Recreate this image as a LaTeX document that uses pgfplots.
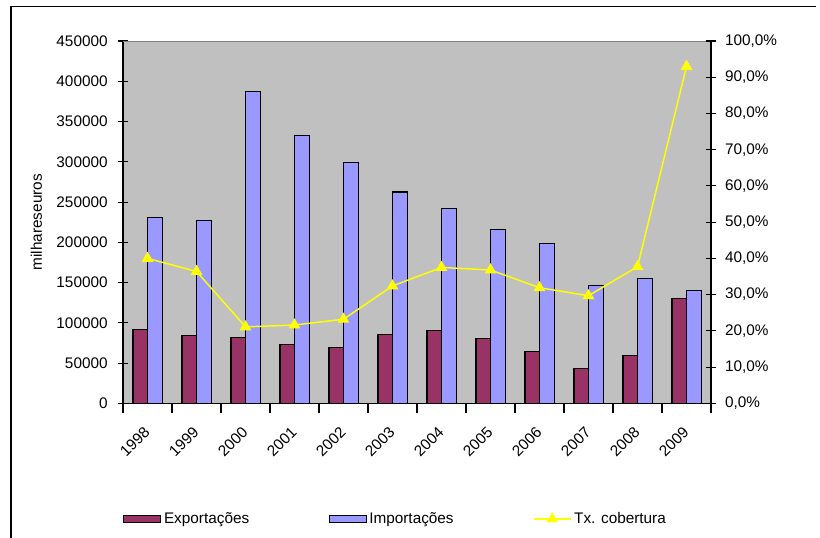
\documentclass[border=0pt]{standalone}
\usepackage{pgfplots}
\pgfplotsset{compat=1.18}
\usepackage{fontspec}
\setmainfont{Liberation Sans}

\definecolor{expcol}{HTML}{993366}
\definecolor{impcol}{HTML}{9999FF}
\definecolor{plotbg}{HTML}{C0C0C0}
\definecolor{topline}{HTML}{808080}
\definecolor{txline}{HTML}{FFFF00}

\pgfplotsset{
  base/.style={
    at={(92.25pt,100.28pt)}, anchor=south west,
    scale only axis, width=441pt, height=271.7pt,
    xmin=-0.5, xmax=11.5,
    tick align=center, major tick length=7pt, minor tick length=7pt,
    every tick/.style={black, line width=0.8pt},
    axis line style={black, line width=0.9pt},
    tick label style={font=\fontsize{11.5}{13}\selectfont},
    label style={font=\fontsize{11.5}{13}\selectfont},
    /pgf/number format/assume math mode=true,
  },
  barleg/.style={legend image code/.code={%
    \draw[##1] (0pt,-2.6pt) rectangle (27.75pt,2.6pt);}},
  lineleg/.style={legend image code/.code={%
    \draw[mark repeat=2, mark phase=2, ##1]
      plot coordinates {(0pt,0pt) (13.9pt,0pt) (27.75pt,0pt)};}},
}

\begin{document}
\begin{tikzpicture}[x=1pt,y=1pt]
\useasboundingbox (0,0) rectangle (615,402.75);
% outer chart frame
\draw[line width=1pt] (8.25,-2) -- (8.25,397.9) -- (612,397.9);

% exports and imports, thousand euros
\begin{axis}[base,
  axis background/.style={fill=plotbg},
  axis x line*=bottom, axis y line*=left,
  ymin=0, ymax=450000, ytick={0,50000,...,450000},
  scaled y ticks=false,
  yticklabel style={/pgf/number format/fixed, /pgf/number format/1000 sep={}},
  yticklabel shift=4.5pt,
  ylabel={milhareseuros},
  ylabel shift=4pt,
  xtick={0,...,11},
  xticklabels={1998,1999,2000,2001,2002,2003,2004,2005,2006,2007,2008,2009},
  major x tick style={draw=none},
  minor xtick={-0.5,0.5,...,11.5},
  xticklabel style={xshift=2pt, rotate=45, anchor=east},
  xticklabel shift=10pt,
  ybar=0pt, bar width=10.9pt,
]
\addplot[draw=black, line width=0.8pt, fill=expcol] coordinates {
  (0,92000) (1,83700) (2,82100) (3,73000) (4,69700) (5,85400)
  (6,90700) (7,80500) (8,63900) (9,42800) (10,59400) (11,130700)};
\addplot[draw=black, line width=0.8pt, fill=impcol] coordinates {
  (0,231000) (1,226900) (2,387000) (3,332500) (4,299100) (5,262500)
  (6,241800) (7,215400) (8,198000) (9,146800) (10,155500) (11,139900)};
\draw[topline, line width=1.5pt] (rel axis cs:0,1) -- (rel axis cs:1,1);
\end{axis}

% coverage ratio, percent
\begin{axis}[base,
  axis x line=none, axis y line*=right,
  ymin=0, ymax=100, ytick={0,10,...,100},
  yticklabel={\pgfmathprintnumber[fixed,fixed zerofill,precision=1,use comma,assume math mode=true]{\tick}\%},
  yticklabel shift=3.5pt,
  legend columns=3,
  legend style={at={(0,-0.3194)}, anchor=west, draw=none, fill=none,
    inner xsep=0pt, font=\fontsize{11.5}{13}\selectfont,
    /tikz/every even column/.append style={column sep=57.5pt}},
]
\addlegendimage{barleg, draw=black, line width=0.8pt, fill=expcol}
\addlegendentry{Exportações}
\addlegendimage{barleg, draw=black, line width=0.8pt, fill=impcol}
\addlegendentry{Importações}
\addplot[txline, line width=1.1pt, mark=triangle*, mark size=4pt,
  mark options={fill=txline, draw=txline}, lineleg]
  coordinates {
  (0,40.0) (1,36.4) (2,21.1) (3,21.6) (4,23.2) (5,32.4)
  (6,37.5) (7,36.8) (8,31.9) (9,29.7) (10,37.7) (11,93.0)};
\addlegendentry{Tx. cobertura}
\end{axis}
\end{tikzpicture}
\end{document}
